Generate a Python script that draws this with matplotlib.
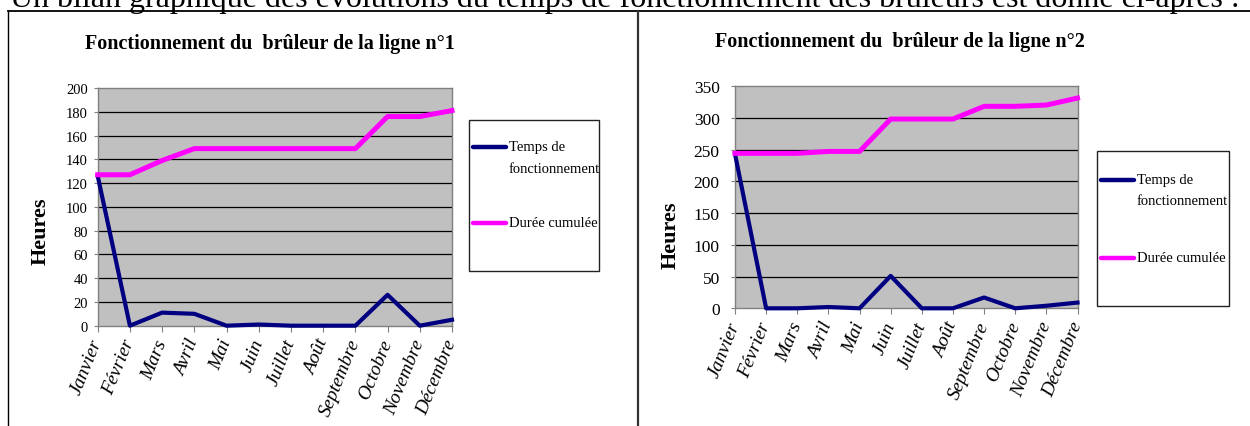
import matplotlib
matplotlib.use("Agg")
import matplotlib.pyplot as plt
from matplotlib.lines import Line2D
from matplotlib.patches import Rectangle

W, H = 1250, 427
NAVY = "#000080"; PINK = "#ff00ff"; SILVER = "#c0c0c0"; FRAME = "#808080"

plt.rcParams["font.family"] = ["Liberation Serif", "DejaVu Serif"]

mois = ["Janvier", "Février", "Mars", "Avril", "Mai", "Juin", "Juillet",
        "Août", "Septembre", "Octobre", "Novembre", "Décembre"]
series_labels = ["Temps de\nfonctionnement", "Durée cumulée"]
series_colors = [NAVY, PINK]

temps_1 = [126, 0, 11, 10, 0, 1, 0, 0, 0, 26, 0, 5]
cumul_1 = [127, 127, 139, 149, 149, 149, 149, 149, 149, 176, 176, 181]
yticks_1 = list(range(0, 201, 20))

temps_2 = [243, 0, 0, 2, 0, 51, 0, 0, 17, 0, 4, 9]
cumul_2 = [244, 244, 244, 247, 247, 298, 298, 298, 318, 318, 320, 331]
yticks_2 = list(range(0, 351, 50))


def rect(x0, y0, x1, y1):
    return [x0 / W, 1 - y1 / H, (x1 - x0) / W, (y1 - y0) / H]


def fx(x):
    return x / W


def fy(y):
    return 1 - y / H


fig = plt.figure(figsize=(W / 100, H / 100), dpi=100)
fig.patch.set_facecolor("white")

# sentence above the table, cut by the top edge as in the scan
fig.text(fx(10), fy(6.5), "Un bilan graphique des évolutions du temps de fonctionnement "
         "des brûleurs est donné ci-après :", fontsize=23, ha="left", va="baseline")

# table borders
for xs, ys, lw, c in [((8, 1250), (12, 12), 1.3, "black"),
                      ((8, 8), (12, 427), 1.0, "black"),
                      ((638, 638), (12, 427), 1.6, "#333333")]:
    fig.add_artist(Line2D([fx(xs[0]), fx(xs[1])], [fy(ys[0]), fy(ys[1])],
                          transform=fig.transFigure, color=c, linewidth=lw))


def panel(box, temps, cumul, yticks, ytick_size, ytick_pad, title, title_xy,
          ylab_xy, leg_box, leg_rows):
    ax = fig.add_axes(rect(*box))
    ax.set_facecolor(SILVER)
    x = list(range(len(mois)))
    for vals, col, lw in [(temps, NAVY, 3.0), (cumul, PINK, 3.6)]:
        ax.plot(x, vals, color=col, linewidth=lw, clip_on=False, zorder=3)
    ax.set_xlim(0, len(mois) - 1)
    ax.set_ylim(yticks[0], yticks[-1])
    ax.set_yticks(yticks)
    ax.set_xticks(x)
    ax.set_xticklabels(mois, rotation=68, ha="right", va="center",
                       rotation_mode="anchor", fontstyle="italic", fontsize=14)
    ax.tick_params(axis="x", length=4, color=FRAME, pad=6)
    ax.tick_params(axis="y", length=3, color=FRAME, pad=ytick_pad,
                   labelsize=ytick_size)
    for s in ax.spines.values():
        s.set_color(FRAME)
        s.set_linewidth(1.0)
    for v in yticks[1:-1]:
        ax.axhline(v, color="black", linewidth=0.9, zorder=1)
    fig.text(fx(title_xy[0]), fy(title_xy[1]), title, fontsize=14.5,
             fontweight="bold", ha="center", va="baseline")
    fig.text(fx(ylab_xy[0]), fy(ylab_xy[1]), "Heures", fontsize=16,
             fontweight="bold", rotation=90, ha="center", va="center")

    # legend box
    lx0, ly0, lx1, ly1 = leg_box
    lg = fig.add_axes(rect(*leg_box))
    lg.set_xlim(lx0, lx1)
    lg.set_ylim(ly1, ly0)
    lg.axis("off")
    lg.add_patch(Rectangle((lx0, ly0), lx1 - lx0, ly1 - ly0, facecolor="white",
                           edgecolor="#222222", linewidth=1.0, clip_on=False))
    for lab, col, yrow in zip(series_labels, series_colors, leg_rows):
        lg.plot([lx0 + 4, lx0 + 37], [yrow, yrow], color=col, linewidth=3.2,
                solid_capstyle="round")
        lg.text(lx0 + 40, yrow - 7, lab, fontsize=10.5, ha="left", va="top",
                linespacing=1.85)
    return ax


panel((97.7, 89, 452, 326.7), temps_1, cumul_1, yticks_1, 10.5, 4,
      "Fonctionnement du  brûleur de la ligne n°1", (270, 48.5), (41, 231),
      (469, 121, 599, 272), (148, 224))
panel((735, 87, 1077.5, 309.3), temps_2, cumul_2, yticks_2, 12.5, 8,
      "Fonctionnement du  brûleur de la ligne n°2", (900, 47.5), (671, 235),
      (1097, 152, 1229, 307), (181, 259))

fig.savefig("out.png", dpi=100, facecolor="white")
